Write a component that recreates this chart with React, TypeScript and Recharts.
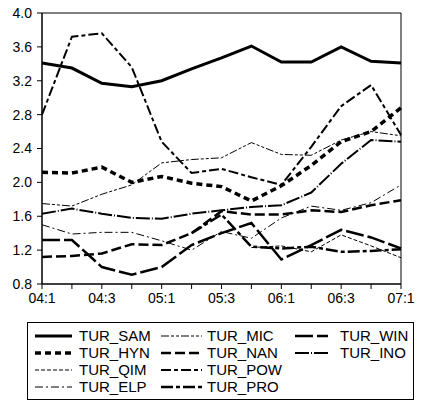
import React from 'react';
import { LineChart, Line, XAxis, YAxis, Legend, ReferenceArea } from 'recharts';

// quarters 2004Q1 .. 2007Q1
const quarters = ['04:1', '04:2', '04:3', '04:4', '05:1', '05:2', '05:3', '05:4', '06:1', '06:2', '06:3', '06:4', '07:1'];

const turSam = [3.41, 3.35, 3.17, 3.13, 3.2, 3.34, 3.47, 3.61, 3.42, 3.42, 3.6, 3.43, 3.41];
const turHyn = [2.12, 2.11, 2.18, 2.0, 2.07, 1.99, 1.95, 1.78, 1.96, 2.2, 2.48, 2.6, 2.88];
const turQim = [null, null, null, null, null, null, null, 1.23, 1.25, 1.18, 1.38, 1.25, 1.11];
const turElp = [1.5, 1.39, 1.41, 1.41, 1.31, 1.2, 1.42, 1.34, 1.58, 1.72, 1.67, 1.76, 1.97];
const turMic = [1.75, 1.72, 1.86, 1.97, 2.23, 2.27, 2.29, 2.47, 2.33, 2.32, 2.5, 2.6, 2.55];
const turNan = [1.12, 1.13, 1.16, 1.27, 1.26, 1.4, 1.66, 1.62, 1.62, 1.67, 1.65, 1.73, 1.79];
const turPow = [2.8, 3.72, 3.76, 3.36, 2.48, 2.11, 2.16, 2.06, 1.97, 2.42, 2.9, 3.15, 2.56];
const turPro = [null, null, null, null, null, 1.4, 1.62, 1.24, 1.22, 1.24, 1.18, 1.19, 1.21];
const turWin = [1.32, 1.32, 1.0, 0.91, 1.0, 1.26, 1.4, 1.52, 1.09, 1.26, 1.44, 1.35, 1.22];
const turIno = [1.63, 1.69, 1.63, 1.58, 1.57, 1.63, 1.67, 1.71, 1.73, 1.88, 2.22, 2.5, 2.48];

const yTicks = [0.8, 1.2, 1.6, 2.0, 2.4, 2.8, 3.2, 3.6, 4.0];

const series = [
    { key: 'TUR_SAM', values: turSam, width: 3, dash: undefined },
    { key: 'TUR_HYN', values: turHyn, width: 3.5, dash: '6 4' },
    { key: 'TUR_QIM', values: turQim, width: 1, dash: '4 2' },
    { key: 'TUR_ELP', values: turElp, width: 1, dash: '8 3 2 3' },
    { key: 'TUR_MIC', values: turMic, width: 1, dash: '8 2 3 2 3 2' },
    { key: 'TUR_NAN', values: turNan, width: 2.5, dash: '10 4' },
    { key: 'TUR_POW', values: turPow, width: 2, dash: '10 3 4 3' },
    { key: 'TUR_PRO', values: turPro, width: 2.5, dash: '12 3 4 3' },
    { key: 'TUR_WIN', values: turWin, width: 2.5, dash: '18 4' },
    { key: 'TUR_INO', values: turIno, width: 2, dash: '14 2 1 2' },
];

const data = quarters.map((q, i) => {
    const row: any = { q };
    series.forEach(s => { row[s.key] = s.values[i]; });
    return row;
});

const FONT = '"Liberation Sans", Arial, sans-serif';

// legend box, 3 columns filled top to bottom
function LegendBox() {
    const colLine = [[8, 45], [134, 175], [268, 301]];
    const colText = [52, 180, 313];
    return (
        <svg width={388} height={79} style={{ display: 'block' }}>
            <rect x={0.5} y={0.5} width={386} height={77} fill="#fff" stroke="#000" />
            {series.map((s, i) => {
                const col = Math.floor(i / 4);
                const row = i % 4;
                const y = 14 + row * 17;
                return (
                    <g key={s.key}>
                        <line x1={colLine[col][0]} x2={colLine[col][1]} y1={y} y2={y}
                            stroke="#000" strokeWidth={s.width} strokeDasharray={s.dash} />
                        <text x={colText[col]} y={y + 5} fontSize={15} fontFamily={FONT} fill="#000">{s.key}</text>
                    </g>
                );
            })}
        </svg>
    );
}

export default function App() {
    return (
        <div style={{ position: 'absolute', left: 0, top: 0, width: 421, height: 402, background: '#fff' }}>
            <LineChart width={421} height={402} data={data}
                margin={{ top: 13, right: 20, left: 0, bottom: 88 }}>
                <XAxis dataKey="q" interval={0} height={30} tickSize={5} tickMargin={4}
                    axisLine={{ stroke: '#000' }} tickLine={{ stroke: '#000' }}
                    tick={{ fill: '#000', fontSize: 14, fontFamily: FONT }}
                    tickFormatter={(v, i) => (i % 2 === 0 ? v : '')} />
                <YAxis domain={[0.8, 4.0]} ticks={yTicks} width={42} tickSize={5} tickMargin={5}
                    axisLine={{ stroke: '#000' }} tickLine={{ stroke: '#000' }}
                    tick={{ fill: '#000', fontSize: 14, fontFamily: FONT }}
                    tickFormatter={(v) => Number(v).toFixed(1)} />
                <ReferenceArea x1="04:1" x2="07:1" y1={0.8} y2={4.0} fill="none" stroke="#000" strokeWidth={1} ifOverflow="visible" />
                {series.map(s => (
                    <Line key={s.key} type="linear" dataKey={s.key} stroke="#000" strokeWidth={s.width}
                        strokeDasharray={s.dash} dot={false} activeDot={false} isAnimationActive={false} />
                ))}
                <Legend layout="vertical" align="center" verticalAlign="middle" content={() => <LegendBox />}
                    wrapperStyle={{ left: 27, top: 322, width: 388, height: 79 }} />
            </LineChart>
        </div>
    );
}
